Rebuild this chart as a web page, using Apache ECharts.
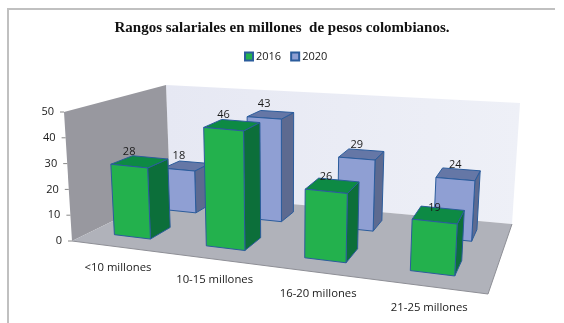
<!DOCTYPE html>
<html><head><meta charset="utf-8">
<style>html,body{margin:0;padding:0;background:#fff}#c{width:564px;height:323px}</style>
<script src="https://cdn.jsdelivr.net/npm/echarts@6/dist/echarts.min.js"></script>
</head><body><div id="c"></div>
<script>
const titleText = 'Rangos salariales en millones  de pesos colombianos.';
const categories = ['<10 millones', '10-15 millones', '16-20 millones', '21-25 millones'];
const seriesNames = ['2016', '2020'];
const values2016 = [28, 46, 26, 19];
const values2020 = [18, 43, 29, 24];
const yTicks = [0, 10, 20, 30, 40, 50];

// Projection of the unit box (u across, v into the page, w upward) on to the page.
const box = {
  flb:[72,241], frb:[488,294], blb:[170,193], brb:[512,224],
  flt:[64,112], frt:[496,152], blt:[166,85], brt:[520,103]
};
const warpU = 0.15, warpV = 0.2;
function lerp(a,b,t){return [a[0]+(b[0]-a[0])*t, a[1]+(b[1]-a[1])*t];}
function project(u,v,w){
  const U = u/(1+warpU*(1-u));
  const V = v*(1+warpV)/(1+warpV*v);
  const bottom = lerp(lerp(box.flb,box.frb,U), lerp(box.blb,box.brb,U), V);
  const top = lerp(lerp(box.flt,box.frt,U), lerp(box.blt,box.brt,U), V);
  return lerp(bottom, top, w);
}
// normalise a category/value pair through the grid's own axes
function unit(api, params, cat, val){
  const cs = params.coordSys, p = api.coord([cat, val]);
  return [(p[0]-cs.x)/cs.width, (cs.y+cs.height-p[1])/cs.height];
}
const barStyles = {
  '2016': {front:'#23b14d', top:'#0d8a44', side:'#0c6f3a'},
  '2020': {front:'#8f9fd3', top:'#6577a6', side:'#5d6a90'}
};
const edge = '#2b5c9c';
const shapes = {
  '2016': {width:0.40, shift:-0.008, v0:0.165, v1:0.375},
  '2020': {width:0.38, shift:-0.003, v0:0.665, v1:0.855}
};

function barSeries(name, values, z){
  const st = barStyles[name], g = shapes[name];
  return {
    type:'custom', name, z, animation:false, silent:true, clip:false,
    itemStyle:{color:st.front, borderColor:edge, borderWidth:1},
    data: values.map((v,i)=>[i,v]),
    encode:{x:0,y:1},
    renderItem(params, api){
      const cat = api.value(0), val = api.value(1);
      const [uc0, w] = unit(api, params, cat, val);
      const uc = uc0 + g.shift;
      const du = api.size([1,0])[0]/params.coordSys.width*g.width/2;
      const u0=uc-du, u1=uc+du, v0=g.v0, v1=g.v1;
      const P=project;
      const poly=(pts,fill)=>({type:'polygon',shape:{points:pts},style:{fill,stroke:edge,lineWidth:1,lineJoin:'round'}});
      return {type:'group',children:[
        poly([P(u1,v0,0),P(u1,v1,0),P(u1,v1,w),P(u1,v0,w)], st.side),
        poly([P(u0,v0,w),P(u1,v0,w),P(u1,v1,w),P(u0,v1,w)], st.top),
        poly([P(u0,v0,0),P(u1,v0,0),P(u1,v0,w),P(u0,v0,w)], st.front)
      ]};
    }
  };
}
function labelSeries(name, values){
  const g = shapes[name];
  return {
    type:'custom', z:6, animation:false, silent:true, clip:false,
    data: values.map((v,i)=>[i,v]), encode:{x:0,y:1},
    renderItem(params, api){
      const [uc,w] = unit(api, params, api.value(0), api.value(1));
      const p = project(uc+g.shift, g.v0, w);
      return {type:'text',style:{x:p[0],y:p[1]-14,text:String(api.value(1)),textAlign:'center',textVerticalAlign:'middle',font:FONT,fill:'#1a1a1a'}};
    }
  };
}
const FONT = '11px "Open Sans"';
const chart = echarts.init(document.getElementById('c'), null, {renderer:'canvas'});
chart.setOption({
  backgroundColor:'#fff',
  animation:false,
  title:{text:titleText, left:'center', top:21, padding:0, textStyle:{fontFamily:'"Liberation Serif"',fontWeight:'bold',fontSize:15,color:'#111'}},
  legend:{data:seriesNames, left:244, top:51, padding:0, itemWidth:8, itemHeight:8, itemGap:9, icon:'rect',
    textStyle:{fontFamily:'"Open Sans"',fontSize:11,color:'#1a1a1a',padding:[0,0,0,-2]}},
  grid:{left:72, top:112, width:416, height:129},
  xAxis:{type:'category', data:categories, show:false},
  yAxis:{type:'value', min:0, max:50, interval:10, show:false},
  graphic:[
    {type:'polyline',shape:{points:[[8,323],[8,9],[555,9]]},style:{fill:'none',stroke:'#c0c0c0',lineWidth:2},silent:true}
  ],
  series:[
    { // walls and floor
      type:'custom', z:1, animation:false, silent:true, clip:false, data:[[0,0]], encode:{x:0,y:1},
      renderItem(){
        const P=project;
        return {type:'group',children:[
          {type:'polygon',shape:{points:[P(0,1,0),P(1,1,0),P(1,1,1),P(0,1,1)]},
           style:{fill:new echarts.graphic.LinearGradient(0,0,1,0,[{offset:0,color:'#e6e8f3'},{offset:1,color:'#eef0f7'}])}},
          {type:'polygon',shape:{points:[P(0,0,0),P(0,1,0),P(0,1,1),P(0,0,1)]},style:{fill:'#98989f'}},
          {type:'polygon',shape:{points:[P(0,0,0),P(1,0,0),P(1,1,0),P(0,1,0)]},style:{fill:'#b0b2ba'}},
          {type:'polyline',shape:{points:[P(0,0,0),P(1,0,0),P(1,1,0)]},style:{fill:'none',stroke:'#8e8f96',lineWidth:1}}
        ]};
      }
    },
    { // value axis ticks and labels
      type:'custom', z:2, animation:false, silent:true, clip:false,
      data:yTicks.map(t=>[0,t]), encode:{x:0,y:1},
      renderItem(params, api){
        const t=api.value(1);
        const [,w]=unit(api,params,0,t);
        const p=project(0,0,w);
        return {type:'group',children:[
          {type:'line',shape:{x1:p[0]-4,y1:p[1],x2:p[0],y2:p[1]},style:{stroke:'#888',lineWidth:1}},
          {type:'text',style:{x:p[0]-10,y:p[1],text:String(t),textAlign:'right',textVerticalAlign:'middle',font:FONT,fill:'#1a1a1a'}}
        ]};
      }
    },
    { // category labels
      type:'custom', z:2, animation:false, silent:true, clip:false,
      data:categories.map((c,i)=>[i,0]), encode:{x:0,y:1},
      renderItem(params, api){
        const i=api.value(0);
        const [u]=unit(api,params,i,0);
        const p=project(u,0,0);
        return {type:'text',style:{x:p[0],y:p[1]+21,text:categories[i],textAlign:'center',textVerticalAlign:'middle',font:'11.3px "Open Sans"',fill:'#1a1a1a'}};
      }
    },
    barSeries('2020', values2020, 3),
    barSeries('2016', values2016, 4),
    labelSeries('2020', values2020),
    labelSeries('2016', values2016)
  ]
});
</script></body></html>
